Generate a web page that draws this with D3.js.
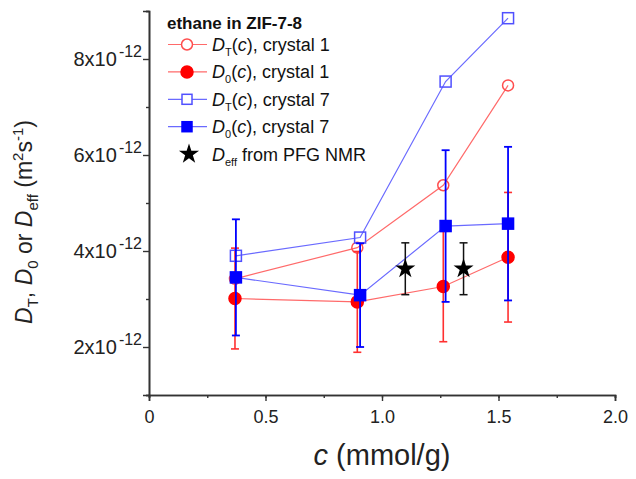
<!DOCTYPE html>
<html><head><meta charset="utf-8">
<script src="https://cdn.jsdelivr.net/npm/d3@7"></script>
<style>body{margin:0;background:#fff}svg{display:block;font-family:Arial,"Liberation Sans",sans-serif}</style>
</head><body><svg id="c" width="636" height="479"></svg>
<script>
// Data (values in units of 1e-12 m^2/s)
const c1X = [0.369, 0.894, 1.263, 1.541];
const c7X = [0.373, 0.906, 1.273, 1.541];
const dtC1 = [3.42, 4.07, 5.37, 7.45];
const d0C1 = [3.01, 2.94, 3.26, 3.87];
const d0C1Err = [1.05, 1.05, 1.15, 1.35];
const dtC7 = [3.90, 4.28, 7.53, 8.85];
const d0C7 = [3.45, 3.08, 4.52, 4.57];
const d0C7Err = [1.21, 1.08, 1.58, 1.60];
const effX = [1.10, 1.35];
const effY = [3.63, 3.63];
const effErr = [0.54, 0.54];
const xTicks = [0, 0.5, 1.0, 1.5, 2.0];
const xTickLabels = ["0", "0.5", "1.0", "1.5", "2.0"];
const yTicks = [2, 4, 6, 8];
const yTickLabels = ["2x10", "4x10", "6x10", "8x10"];
const yExp = "-12";

const svg = d3.select("#c");
const x = d3.scaleLinear().domain([0, 2]).range([149, 615]);
const y = d3.scaleLinear().domain([1, 9]).range([395, 11]);
const axisCol = "#333";

// axes
const gx = svg.append("g").attr("transform", "translate(0,395)")
  .call(d3.axisBottom(x).tickValues(d3.range(0, 2.001, 0.25)).tickSize(3).tickFormat(""));
const gx2 = svg.append("g").attr("transform", "translate(0,395)")
  .call(d3.axisBottom(x).tickValues(xTicks).tickSize(6).tickPadding(9).tickFormat((d, i) => xTickLabels[i]));
const gy = svg.append("g").attr("transform", "translate(149,0)")
  .call(d3.axisLeft(y).tickValues([1, 3, 5, 7, 9]).tickSize(3).tickFormat(""));
const gy2 = svg.append("g").attr("transform", "translate(149,0)")
  .call(d3.axisLeft(y).tickValues(yTicks).tickSize(6).tickFormat(""));
[gx, gx2, gy, gy2].forEach(g => {
  g.selectAll("path.domain").attr("stroke", axisCol).attr("stroke-width", 1.6);
  g.selectAll(".tick line").attr("stroke", axisCol).attr("stroke-width", 1.4);
});
gx2.selectAll(".tick text").attr("font-size", 18).attr("fill", "#222").attr("font-family", "Arial, 'Liberation Sans', sans-serif");

// y tick labels with superscript
yTicks.forEach((v, i) => {
  const t = svg.append("text").attr("x", 142).attr("y", y(v) + 7).attr("text-anchor", "end")
    .attr("font-size", 20).attr("fill", "#222");
  t.append("tspan").text(yTickLabels[i]);
  t.append("tspan").attr("dy", -9).attr("dx", 2).attr("font-size", 16).text(yExp);
});

// axis titles
const xt = svg.append("text").attr("x", 382).attr("y", 465).attr("text-anchor", "middle")
  .attr("font-size", 29).attr("fill", "#222");
xt.append("tspan").attr("font-style", "italic").text("c");
xt.append("tspan").text(" (mmol/g)");

const yt = svg.append("text").attr("transform", "translate(32,222) rotate(-90)")
  .attr("text-anchor", "middle").attr("font-size", 23).attr("fill", "#222");
yt.append("tspan").attr("font-style", "italic").text("D");
yt.append("tspan").attr("font-size", 15).attr("dy", 6).text("T");
yt.append("tspan").attr("dy", -6).text(", ");
yt.append("tspan").attr("font-style", "italic").text("D");
yt.append("tspan").attr("font-size", 15).attr("dy", 6).text("0");
yt.append("tspan").attr("dy", -6).text(" or ");
yt.append("tspan").attr("font-style", "italic").text("D");
yt.append("tspan").attr("font-size", 15).attr("dy", 6).text("eff");
yt.append("tspan").attr("dy", -6).text(" (m");
yt.append("tspan").attr("font-size", 15).attr("dy", -9).text("2");
yt.append("tspan").attr("dy", 9).text("s");
yt.append("tspan").attr("font-size", 15).attr("dy", -9).text("-1");
yt.append("tspan").attr("dy", 9).text(")");

const line = d3.line();
function drawLine(xs, ys, col) {
  svg.append("path").attr("d", line(xs.map((d, i) => [x(d), y(ys[i])])))
    .attr("fill", "none").attr("stroke", col).attr("stroke-width", 1.2);
}
function drawErr(xs, ys, es, col, w, cap) {
  xs.forEach((d, i) => {
    const cx = x(d), y0 = y(ys[i] - es[i]), y1 = y(ys[i] + es[i]);
    const g = svg.append("g").attr("stroke", col).attr("stroke-width", w);
    g.append("line").attr("x1", cx).attr("x2", cx).attr("y1", y0).attr("y2", y1);
    g.append("line").attr("x1", cx - cap).attr("x2", cx + cap).attr("y1", y0).attr("y2", y0);
    g.append("line").attr("x1", cx - cap).attr("x2", cx + cap).attr("y1", y1).attr("y2", y1);
  });
}
function circles(xs, ys, fill, stroke) {
  xs.forEach((d, i) => svg.append("circle").attr("cx", x(d)).attr("cy", y(ys[i])).attr("r", fill === "none" ? 5.5 : 6)
    .attr("fill", fill === "none" ? "#fff" : fill).attr("fill-opacity", fill === "none" ? 0 : 1)
    .attr("stroke", stroke).attr("stroke-width", 1.5));
}
function squares(xs, ys, fill, stroke) {
  xs.forEach((d, i) => svg.append("rect").attr("x", x(d) - 5.5).attr("y", y(ys[i]) - 5.5).attr("width", 11).attr("height", 11)
    .attr("fill", fill === "none" ? "#fff" : fill).attr("fill-opacity", fill === "none" ? 0 : 1)
    .attr("stroke", stroke).attr("stroke-width", 1.5));
}

const redLine = "#ff6a6a", redMk = "#ff4d4d", redFill = "#ff0000", redErr = "#ff3030";
const blueLine = "#6a6aff", blueMk = "#5050ff", blueFill = "#0000ff", blueErr = "#0000ff";

// crystal 1 D_T
drawLine(c1X, dtC1, redLine);
circles(c1X, dtC1, "none", redMk);
// crystal 1 D_0
drawLine(c1X, d0C1, redLine);
drawErr(c1X, d0C1, d0C1Err, redErr, 1.6, 4);
circles(c1X, d0C1, redFill, redFill);
// crystal 7 D_T
drawLine(c7X, dtC7, blueLine);
squares(c7X, dtC7, "none", blueMk);
// crystal 7 D_0
drawLine(c7X, d0C7, blueLine);
drawErr(c7X, d0C7, d0C7Err, blueErr, 1.8, 4);
squares(c7X, d0C7, blueFill, blueFill);
// D_eff
drawErr(effX, effY, effErr, "#111", 1.5, 4);
const star = d3.symbol(d3.symbolStar, 125);
effX.forEach((d, i) => svg.append("path").attr("d", star()).attr("transform", `translate(${x(d)},${y(effY[i])})`)
  .attr("fill", "#000"));

// legend
svg.append("text").attr("x", 167).attr("y", 29).attr("font-size", 17).attr("font-weight", "bold").attr("fill", "#111")
  .text("ethane in ZIF-7-8");
const legItems = [
  {sub: "T", crystal: "1", col: redLine, mk: "circle", fill: "none", stroke: redMk},
  {sub: "0", crystal: "1", col: redLine, mk: "circle", fill: redFill, stroke: redFill},
  {sub: "T", crystal: "7", col: blueLine, mk: "square", fill: "none", stroke: blueMk},
  {sub: "0", crystal: "7", col: blueLine, mk: "square", fill: blueFill, stroke: blueFill}
];
legItems.forEach((it, i) => {
  const cy = 44.5 + i * 27.4;
  svg.append("line").attr("x1", 168).attr("x2", 207).attr("y1", cy).attr("y2", cy).attr("stroke", it.col).attr("stroke-width", 1.2);
  if (it.mk === "circle") {
    svg.append("circle").attr("cx", 187).attr("cy", cy).attr("r", it.fill === "none" ? 5.5 : 6)
      .attr("fill", it.fill === "none" ? "#fff" : it.fill).attr("stroke", it.stroke).attr("stroke-width", 1.5);
  } else {
    svg.append("rect").attr("x", 182).attr("y", cy - 5).attr("width", 10).attr("height", 10)
      .attr("fill", it.fill === "none" ? "#fff" : it.fill).attr("stroke", it.stroke).attr("stroke-width", 1.5);
  }
  const t = svg.append("text").attr("x", 212).attr("y", cy + 6.5).attr("font-size", 18).attr("fill", "#111");
  t.append("tspan").attr("font-style", "italic").text("D");
  t.append("tspan").attr("font-size", 11).attr("dy", 5).text(it.sub);
  t.append("tspan").attr("dy", -5).text("(");
  t.append("tspan").attr("font-style", "italic").text("c");
  t.append("tspan").text("), crystal " + it.crystal);
});
{
  const cy = 44.5 + 4 * 27.4;
  svg.append("path").attr("d", d3.symbol(d3.symbolStar, 125)()).attr("transform", `translate(189,${cy})`).attr("fill", "#000");
  const t = svg.append("text").attr("x", 212).attr("y", cy + 6.5).attr("font-size", 18).attr("fill", "#111");
  t.append("tspan").attr("font-style", "italic").text("D");
  t.append("tspan").attr("font-size", 11).attr("dy", 5).text("eff");
  t.append("tspan").attr("dy", -5).text(" from PFG NMR");
}
</script></body></html>
